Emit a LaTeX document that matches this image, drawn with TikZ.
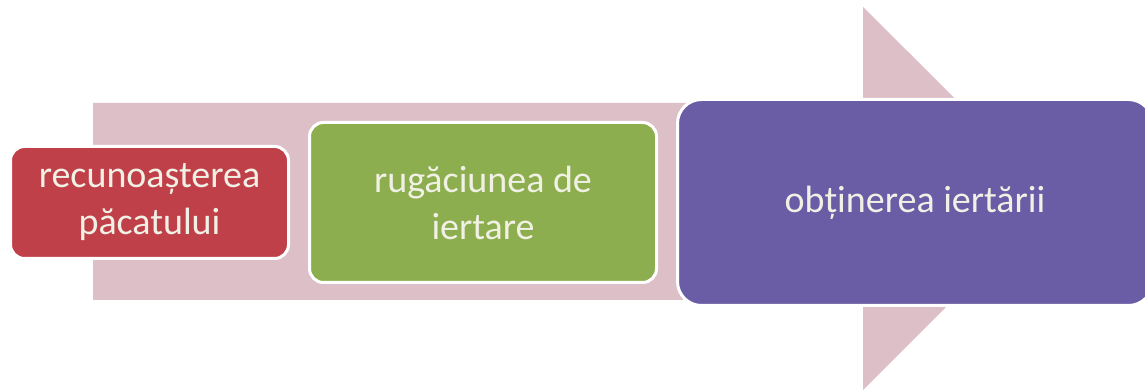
\documentclass[tikz,border=0pt]{standalone}
\usepackage{fontspec}
\setmainfont{Carlito}
\usetikzlibrary{positioning}
\definecolor{band}{HTML}{DDC0C7}
\definecolor{redstep}{HTML}{C0404A}
\definecolor{greenstep}{HTML}{8DAE4E}
\definecolor{violetstep}{HTML}{6A5DA6}
\definecolor{paper}{HTML}{F0F0E4}
\tikzset{stage/.style={draw=white,line width=3pt,rounded corners=14pt,align=center,text=paper,font=\fontsize{38}{47}\selectfont,inner sep=0pt}}
\begin{document}
\begin{tikzpicture}[x=1pt,y=1pt,node distance=18pt]
\useasboundingbox (0,0) rectangle (1145,390);
% background arrow
\fill[band] (93,287)--(863,287)--(863,383)--(1055,192)--(863,0)--(863,90)--(93,90)--cycle;
\node[stage,fill=redstep,minimum width=278pt,minimum height=112pt](know) at (149.5,187.5){recunoașterea\\păcatului};
\node[stage,fill=greenstep,minimum width=347pt,minimum height=160pt,right=of know](pray){rugăciunea de\\iertare};
\node[stage,fill=violetstep,minimum width=475pt,minimum height=206pt,rounded corners=24pt,right=of pray](forgive){obținerea iertării};
\end{tikzpicture}
\end{document}
